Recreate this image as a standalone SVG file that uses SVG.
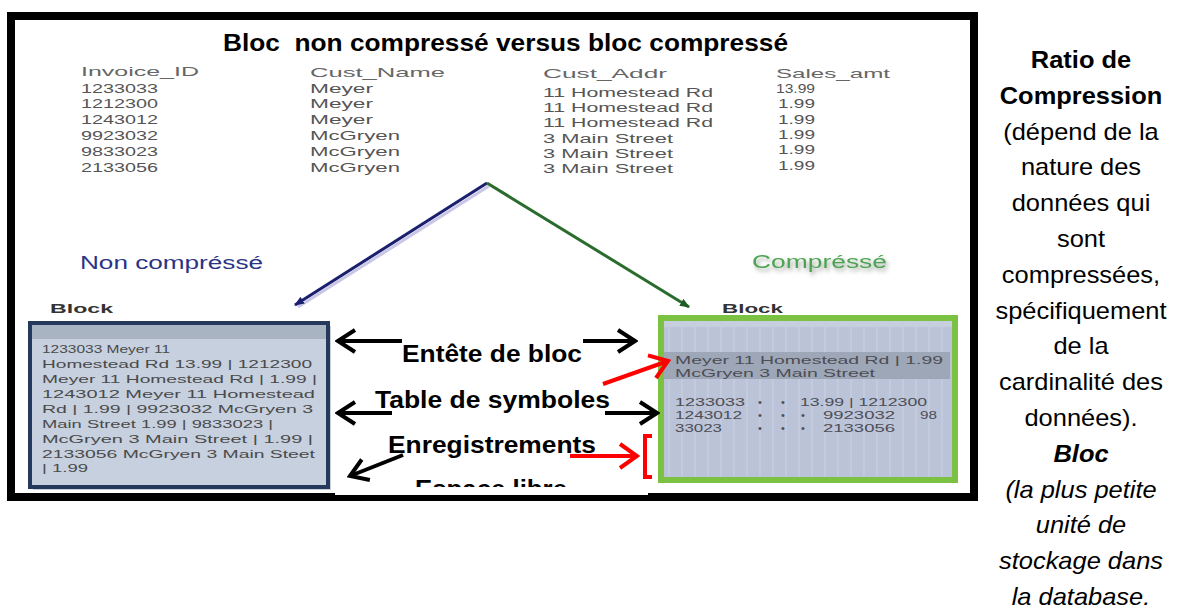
<svg xmlns="http://www.w3.org/2000/svg" width="1179" height="612" viewBox="0 0 1179 612">
<style>
text{font-family:"Liberation Sans",Arial,Helvetica,sans-serif}
.title{font-size:24px;font-weight:bold;fill:#000;white-space:pre}
.th{font-size:13.5px;fill:#666}
.td{font-size:12px;fill:#555}
.blk{font-size:11px;fill:#4a4a4a}
.cblk{font-size:11px;fill:#4d4d55}
.lbl{font-size:13px;font-weight:bold;fill:#333}
.big{font-size:23px;font-weight:bold;fill:#000}
.side{font-size:24px;fill:#000;text-anchor:middle}
.sb{font-weight:bold}
.si{font-style:italic}
.arr{fill:none;stroke:#000;stroke-width:4}
.red{fill:none;stroke:#f00;stroke-width:4}
</style>
<defs>
<marker id="chev" markerUnits="userSpaceOnUse" viewBox="0 0 22 26" markerWidth="22" markerHeight="26" refX="19" refY="13" orient="auto">
<path d="M2,2 L19,13 L2,24" fill="none" stroke="#000" stroke-width="4"/>
</marker>
<marker id="chevR" markerUnits="userSpaceOnUse" viewBox="0 0 22 28" markerWidth="22" markerHeight="28" refX="19" refY="14" orient="auto">
<path d="M2,2 L19,14 L2,26" fill="none" stroke="#f00" stroke-width="4"/>
</marker>
<marker id="triB" markerUnits="userSpaceOnUse" viewBox="0 0 10 8" markerWidth="10" markerHeight="8" refX="9" refY="4" orient="auto">
<path d="M0,0 L10,4 L0,8 Z" fill="#1a1f6e"/>
</marker>
<marker id="triG" markerUnits="userSpaceOnUse" viewBox="0 0 10 8" markerWidth="10" markerHeight="8" refX="9" refY="4" orient="auto">
<path d="M0,0 L10,4 L0,8 Z" fill="#1f5a24"/>
</marker>
<pattern id="grid" width="13" height="200" patternUnits="userSpaceOnUse">
<rect width="13" height="200" fill="#bac3d7"/>
<line x1="6" y1="0" x2="6" y2="200" stroke="#d8dce8" stroke-width="1" opacity="0.6"/>
</pattern>
<filter id="glow" x="-10%" y="-30%" width="130%" height="180%">
<feDropShadow dx="2" dy="3" stdDeviation="2" flood-color="#556655" flood-opacity="0.6"/>
</filter>
<clipPath id="clipEsp"><rect x="335" y="322" width="313" height="165"/></clipPath>
</defs>

<rect x="0" y="0" width="1179" height="612" fill="#fff"/>

<g id="frame">
<rect x="11" y="16" width="963" height="481" fill="#fff" stroke="#000" stroke-width="8"/>
</g>

<g id="title">
<text class="title" x="223" y="51" textLength="565" lengthAdjust="spacingAndGlyphs" xml:space="preserve">Bloc  non compressé versus bloc compressé</text>
</g>

<g id="table">
<text class="th" x="81" y="76" textLength="118" lengthAdjust="spacingAndGlyphs">Invoice_ID</text>
<text class="td" x="81" y="93" textLength="77" lengthAdjust="spacingAndGlyphs">1233033</text>
<text class="td" x="81" y="108" textLength="77" lengthAdjust="spacingAndGlyphs">1212300</text>
<text class="td" x="81" y="124" textLength="77" lengthAdjust="spacingAndGlyphs">1243012</text>
<text class="td" x="81" y="140" textLength="77" lengthAdjust="spacingAndGlyphs">9923032</text>
<text class="td" x="81" y="156" textLength="77" lengthAdjust="spacingAndGlyphs">9833023</text>
<text class="td" x="81" y="172" textLength="77" lengthAdjust="spacingAndGlyphs">2133056</text>

<text class="th" x="310" y="77" textLength="135" lengthAdjust="spacingAndGlyphs">Cust_Name</text>
<text class="td" x="310" y="93" textLength="63" lengthAdjust="spacingAndGlyphs">Meyer</text>
<text class="td" x="310" y="108" textLength="63" lengthAdjust="spacingAndGlyphs">Meyer</text>
<text class="td" x="310" y="124" textLength="63" lengthAdjust="spacingAndGlyphs">Meyer</text>
<text class="td" x="310" y="140" textLength="90" lengthAdjust="spacingAndGlyphs">McGryen</text>
<text class="td" x="310" y="156" textLength="90" lengthAdjust="spacingAndGlyphs">McGryen</text>
<text class="td" x="310" y="172" textLength="90" lengthAdjust="spacingAndGlyphs">McGryen</text>

<text class="th" x="543" y="78" textLength="124" lengthAdjust="spacingAndGlyphs">Cust_Addr</text>
<text class="td" x="543" y="97" textLength="170" lengthAdjust="spacingAndGlyphs">11 Homestead Rd</text>
<text class="td" x="543" y="112" textLength="170" lengthAdjust="spacingAndGlyphs">11 Homestead Rd</text>
<text class="td" x="543" y="127" textLength="170" lengthAdjust="spacingAndGlyphs">11 Homestead Rd</text>
<text class="td" x="543" y="143" textLength="130" lengthAdjust="spacingAndGlyphs">3 Main Street</text>
<text class="td" x="543" y="158" textLength="130" lengthAdjust="spacingAndGlyphs">3 Main Street</text>
<text class="td" x="543" y="173" textLength="130" lengthAdjust="spacingAndGlyphs">3 Main Street</text>

<text class="th" x="776" y="78" textLength="114" lengthAdjust="spacingAndGlyphs">Sales_amt</text>
<text class="td" x="776" y="93" textLength="39" lengthAdjust="spacingAndGlyphs">13.99</text>
<text class="td" x="778" y="108" textLength="37" lengthAdjust="spacingAndGlyphs">1.99</text>
<text class="td" x="778" y="124" textLength="37" lengthAdjust="spacingAndGlyphs">1.99</text>
<text class="td" x="778" y="139" textLength="37" lengthAdjust="spacingAndGlyphs">1.99</text>
<text class="td" x="778" y="154" textLength="37" lengthAdjust="spacingAndGlyphs">1.99</text>
<text class="td" x="778" y="170" textLength="37" lengthAdjust="spacingAndGlyphs">1.99</text>
</g>

<g id="label-non-compresse">
<text x="80" y="269" font-size="18" fill="#2a3385" textLength="183" lengthAdjust="spacingAndGlyphs">Non compréssé</text>
</g>
<g id="label-compresse">
<text x="752" y="268" font-size="18" fill="#4ea352" filter="url(#glow)" textLength="135" lengthAdjust="spacingAndGlyphs">Compréssé</text>
</g>

<g id="block-left">
<text class="lbl" x="50" y="313" textLength="63" lengthAdjust="spacingAndGlyphs">Block</text>
<rect x="33" y="326" width="298" height="164" fill="#9aa4b2" opacity="0.5"/>
<rect x="30" y="323" width="298" height="164" fill="#c6d0de" stroke="#24395c" stroke-width="4"/>
<rect x="32" y="325" width="294" height="14" fill="#a9b4c3"/>
<text class="blk" x="42" y="353" textLength="128" lengthAdjust="spacingAndGlyphs">1233033 Meyer 11</text>
<text class="blk" x="42" y="368" textLength="270" lengthAdjust="spacingAndGlyphs">Homestead Rd 13.99 | 1212300</text>
<text class="blk" x="42" y="383" textLength="275" lengthAdjust="spacingAndGlyphs">Meyer 11 Homestead Rd | 1.99 |</text>
<text class="blk" x="42" y="398" textLength="273" lengthAdjust="spacingAndGlyphs">1243012 Meyer 11 Homestead</text>
<text class="blk" x="42" y="413" textLength="271" lengthAdjust="spacingAndGlyphs">Rd | 1.99 | 9923032 McGryen 3</text>
<text class="blk" x="42" y="428" textLength="231" lengthAdjust="spacingAndGlyphs">Main Street 1.99 | 9833023 |</text>
<text class="blk" x="42" y="443" textLength="271" lengthAdjust="spacingAndGlyphs">McGryen 3 Main Street | 1.99 |</text>
<text class="blk" x="42" y="458" textLength="273" lengthAdjust="spacingAndGlyphs">2133056 McGryen 3 Main Steet</text>
<text class="blk" x="42" y="472" textLength="46" lengthAdjust="spacingAndGlyphs">| 1.99</text>
</g>

<g id="block-right">
<text class="lbl" x="722" y="313" textLength="61" lengthAdjust="spacingAndGlyphs">Block</text>
<rect x="661" y="318" width="294" height="162" fill="url(#grid)" stroke="#7cc242" stroke-width="6"/>
<rect x="664" y="321" width="288" height="6" fill="#c7cedd"/>
<rect x="664" y="352" width="286" height="27" fill="#9ea7b7"/>
<text class="cblk" x="675" y="364" textLength="268" lengthAdjust="spacingAndGlyphs">Meyer 11 Homestead Rd | 1.99</text>
<text class="cblk" x="675" y="377" textLength="200" lengthAdjust="spacingAndGlyphs">McGryen 3 Main Street</text>
<text class="cblk" x="675" y="406" textLength="70" lengthAdjust="spacingAndGlyphs">1233033</text>
<text class="cblk" x="758" y="406">•</text>
<text class="cblk" x="781" y="406">•</text>
<text class="cblk" x="800" y="406" textLength="127" lengthAdjust="spacingAndGlyphs">13.99 | 1212300</text>
<text class="cblk" x="675" y="419" textLength="67" lengthAdjust="spacingAndGlyphs">1243012</text>
<text class="cblk" x="758" y="419">•</text>
<text class="cblk" x="781" y="419">•</text>
<text class="cblk" x="801" y="419">•</text>
<text class="cblk" x="823" y="419" textLength="72" lengthAdjust="spacingAndGlyphs">9923032</text>
<text class="cblk" x="920" y="419" textLength="17" lengthAdjust="spacingAndGlyphs">98</text>
<text class="cblk" x="675" y="432" textLength="47" lengthAdjust="spacingAndGlyphs">33023</text>
<text class="cblk" x="758" y="432">•</text>
<text class="cblk" x="781" y="432">•</text>
<text class="cblk" x="801" y="432">•</text>
<text class="cblk" x="823" y="432" textLength="72" lengthAdjust="spacingAndGlyphs">2133056</text>
</g>

<g id="legend">
<rect x="335" y="322" width="313" height="173" fill="#fff"/>
<text class="big" x="402" y="362" textLength="180" lengthAdjust="spacingAndGlyphs">Entête de bloc</text>
<text class="big" x="375" y="408" textLength="235" lengthAdjust="spacingAndGlyphs">Table de symboles</text>
<text class="big" x="388" y="453" textLength="208" lengthAdjust="spacingAndGlyphs">Enregistrements</text>
<g clip-path="url(#clipEsp)">
<text class="big" x="415" y="497" textLength="152" lengthAdjust="spacingAndGlyphs">Espace libre</text>
</g>
</g>

<g id="connectors">
<line x1="489" y1="186" x2="298" y2="307" stroke="#c9c6e6" stroke-width="3"/>
<line x1="487" y1="183" x2="295" y2="305" stroke="#1a1f6e" stroke-width="3" marker-end="url(#triB)"/>
<line x1="487" y1="183" x2="689" y2="307" stroke="#2a6b2e" stroke-width="3" marker-end="url(#triG)"/>
<line class="arr" x1="402" y1="341" x2="338" y2="341" marker-end="url(#chev)"/>
<line class="arr" x1="583" y1="341" x2="635" y2="341" marker-end="url(#chev)"/>
<line class="arr" x1="392" y1="413" x2="338" y2="413" marker-end="url(#chev)"/>
<line class="arr" x1="605" y1="413" x2="657" y2="413" marker-end="url(#chev)"/>
<line class="arr" x1="403" y1="455" x2="350" y2="476" marker-end="url(#chev)"/>
<line class="red" x1="603" y1="384" x2="668" y2="361" marker-end="url(#chevR)"/>
<line class="red" x1="570" y1="456" x2="637" y2="456" marker-end="url(#chevR)"/>
<path class="red" d="M652,436 L645,436 L645,477 L652,477" stroke-width="3.5"/>
</g>

<g id="side-text" transform="translate(1081,0) scale(1.06,1)">
<text class="side sb" x="0" y="68">Ratio de</text>
<text class="side sb" x="0" y="104">Compression</text>
<text class="side" x="0" y="140">(dépend de la</text>
<text class="side" x="0" y="175">nature des</text>
<text class="side" x="0" y="211">données qui</text>
<text class="side" x="0" y="247">sont</text>
<text class="side" x="0" y="283">compressées,</text>
<text class="side" x="0" y="319">spécifiquement</text>
<text class="side" x="0" y="354">de la</text>
<text class="side" x="0" y="390">cardinalité des</text>
<text class="side" x="0" y="426">données).</text>
<text class="side sb si" x="0" y="462">Bloc</text>
<text class="side si" x="0" y="498">(la plus petite</text>
<text class="side si" x="0" y="533">unité de</text>
<text class="side si" x="0" y="569">stockage dans</text>
<text class="side si" x="0" y="605">la database.</text>
</g>
</svg>
